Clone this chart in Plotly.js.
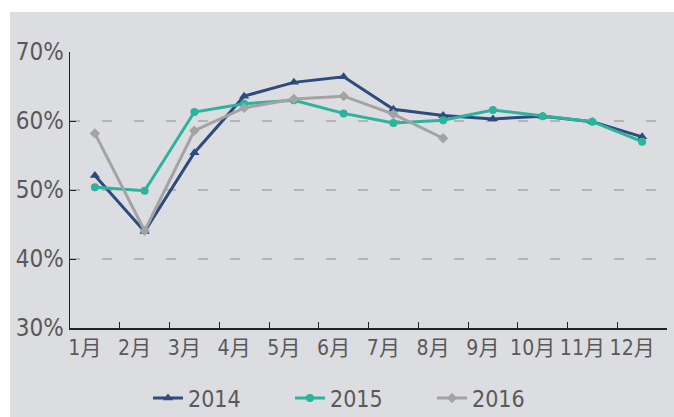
<!DOCTYPE html>
<html>
<head>
<meta charset="utf-8">
<script src="https://cdn.plot.ly/plotly-3.0.1.min.js"></script>
<style>html,body{margin:0;padding:0;background:#fff;}#chart{width:674px;height:417px;}</style>
</head>
<body>
<div id="chart"></div>
<script>
var months = ['1月','2月','3月','4月','5月','6月','7月','8月','9月','10月','11月','12月'];
var s2014 = [52.1, 44.0, 55.4, 63.6, 65.6, 66.4, 61.7, 60.8, 60.3, 60.7, 59.9, 57.7];
var s2015 = [50.4, 49.9, 61.3, 62.5, 63.0, 61.1, 59.7, 60.1, 61.6, 60.7, 59.9, 57.0];
var s2016 = [58.2, 44.1, 58.6, 61.9, 63.2, 63.6, 61.0, 57.5];
var yTicks = [30, 40, 50, 60, 70];
var yTickLabels = ['30%', '40%', '50%', '60%', '70%'];

var FONT = '"Liberation Sans Narrow", "DejaVu Sans Condensed", "Noto Sans CJK SC", sans-serif';
var TXT = '#595959';
var BG = '#dcdde0';

var traces = [
  {x: months, y: s2014, name: '2014', type: 'scatter', mode: 'lines+markers',
   line: {color: '#2e4b7e', width: 3}, marker: {symbol: 'triangle-up', size: 9, color: '#2e4b7e'}},
  {x: months, y: s2015, name: '2015', type: 'scatter', mode: 'lines+markers',
   line: {color: '#2bb39b', width: 3}, marker: {symbol: 'circle', size: 8, color: '#2bb39b'}},
  {x: months.slice(0, s2016.length), y: s2016, name: '2016', type: 'scatter', mode: 'lines+markers',
   line: {color: '#a3a3a3', width: 3}, marker: {symbol: 'diamond', size: 8, color: '#a3a3a3'}}
];

var L = 70, R = 7, T = 52, B = 89, W = 674, H = 417;
var pw = W - L - R, ph = H - T - B;

var layout = {
  width: W, height: H,
  margin: {l: L, r: R, t: T, b: B, pad: 0, autoexpand: false},
  paper_bgcolor: '#ffffff',
  plot_bgcolor: BG,
  font: {family: FONT, color: TXT},
  showlegend: true,
  legend: {orientation: 'h', x: (361 - L) / pw, xanchor: 'center', y: (T + ph - 398) / ph, yanchor: 'middle',
           font: {size: 23, color: TXT, family: FONT}, bgcolor: 'rgba(0,0,0,0)',
           entrywidth: 97, entrywidthmode: 'pixels', traceorder: 'normal'},
  xaxis: {
    type: 'category', tickson: 'boundaries', ticks: 'inside', ticklen: 6, tickcolor: '#222',
    showline: true, linecolor: '#222', linewidth: 1.5, showgrid: false, zeroline: false,
    tickfont: {size: 21, color: TXT, family: FONT}, tickangle: 0, ticklabelshift: -10, automargin: false,
    range: [-0.5, 11.5]
  },
  yaxis: {
    range: [30, 70], tickvals: yTicks, ticktext: yTickLabels, ticks: 'inside', ticklen: 6, tickcolor: '#222',
    showline: true, linecolor: '#222', linewidth: 1.5, automargin: false,
    showgrid: true, gridcolor: '#b4b4b6', gridwidth: 1.2, griddash: '10px,22px', zeroline: false,
    tickfont: {size: 24, color: TXT, family: FONT}
  },
  shapes: [{
    type: 'rect', xref: 'paper', yref: 'paper', layer: 'below',
    x0: (10 - L) / pw, x1: (W - L) / pw, y0: (T + ph - H) / ph, y1: (T + ph - 12) / ph,
    fillcolor: BG, line: {width: 0}
  }]
};

Plotly.newPlot('chart', traces, layout, {displayModeBar: false, staticPlot: true});
</script>
</body>
</html>
